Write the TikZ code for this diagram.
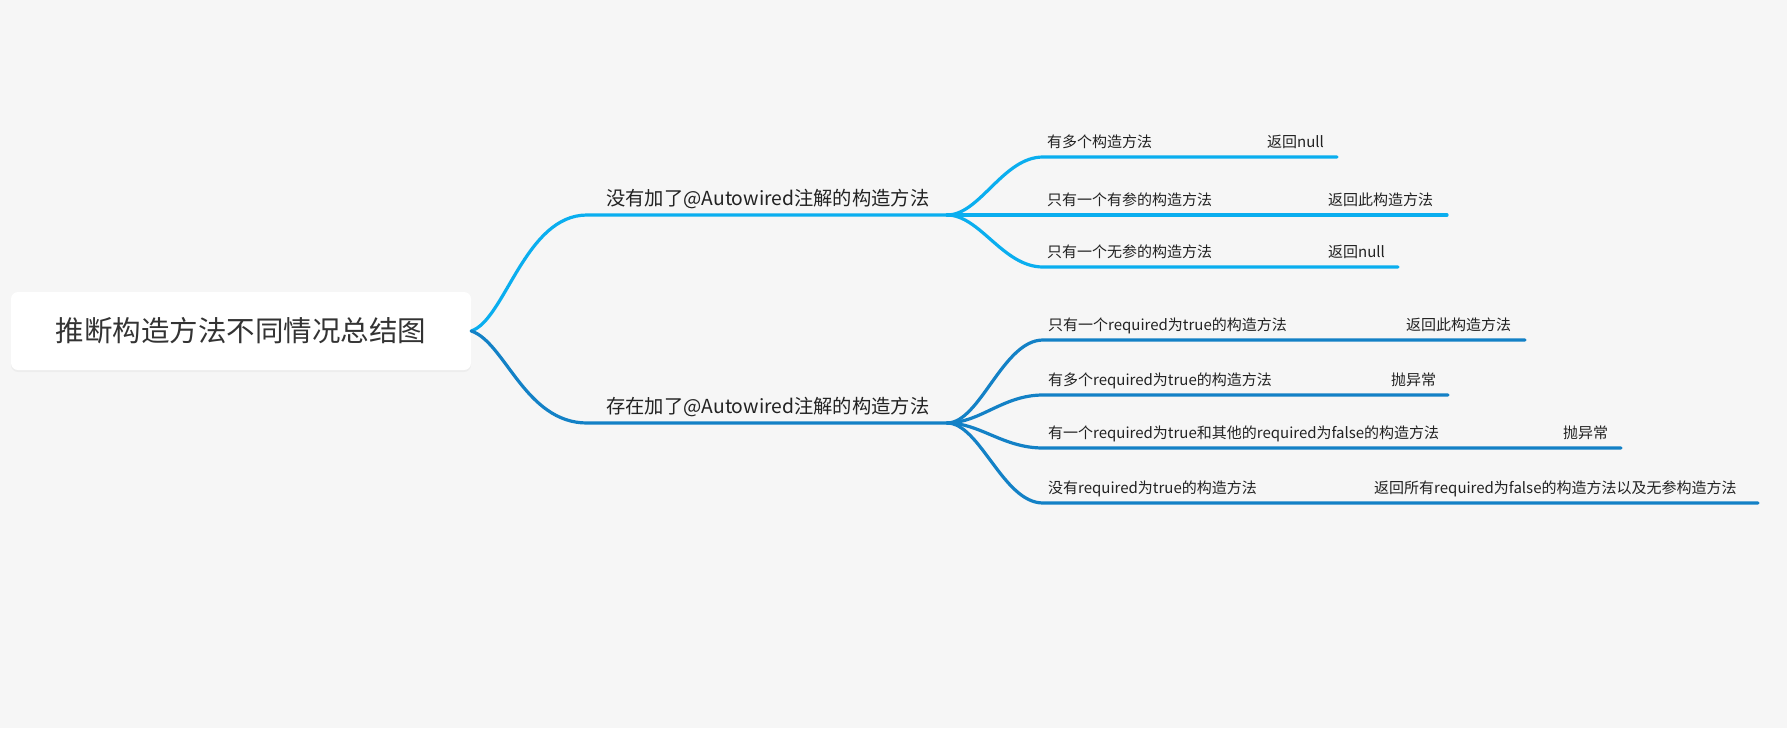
\documentclass[tikz,border=0pt]{standalone}
\usepackage{fontspec}
\setmainfont{Noto Sans CJK SC}
\usetikzlibrary{shadows}
\definecolor{bg}{HTML}{F6F6F6}
\definecolor{cA}{HTML}{0AAEEF}
\definecolor{cB}{HTML}{1381C6}
\definecolor{txt}{HTML}{222222}
\definecolor{roottxt}{HTML}{333333}
\begin{document}
\begin{tikzpicture}[x=1pt,y=-1pt,
  rootbox/.style={fill=white, rounded corners=7pt, minimum width=460pt, minimum height=78pt, inner sep=0pt, text=roottxt, font=\fontsize{28.5}{28.5}\selectfont, drop shadow={opacity=0.07, shadow xshift=0pt, shadow yshift=-2pt}},
  mainlbl/.style={anchor=base west, inner sep=0pt, text=txt, font=\fontsize{19.3}{19.3}\selectfont},
  leaflbl/.style={anchor=base west, inner sep=0pt, text=txt, font=\fontsize{15}{15}\selectfont},
  linkA/.style={draw=cA, line width=3.2pt, line cap=round},
  linkB/.style={draw=cB, line width=3.2pt, line cap=round},
]
\fill[bg] (0,0) rectangle (1787,728);
\useasboundingbox (0,0) rectangle (1787,728);

\node[rootbox] (root) at (241,331) {推断构造方法不同情况总结图};

% ---- branch 1
\coordinate (a0) at (587,215);
\coordinate (a1) at (947,215);
\node[mainlbl] (atext) at (606,205) {没有加了@Autowired注解的构造方法};
\draw[linkA] (root.east) .. controls (505,320) and (525,215) .. (a0) -- (a1);

\coordinate (r1s) at (1043,157); \coordinate (r1e) at (1337,157);
\coordinate (r2s) at (1043,215); \coordinate (r2e) at (1447,215);
\coordinate (r3s) at (1043,267); \coordinate (r3e) at (1398,267);
\draw[linkA] (a1) .. controls +(33,0) and +(-40,0) .. (r1s) -- (r1e);
\draw[linkA] (a1) -- (r2s) -- (r2e);
\draw[linkA] (a1) .. controls +(33,0) and +(-40,0) .. (r3s) -- (r3e);
\node[leaflbl] (r1l) at (1047,147) {有多个构造方法};
\node[leaflbl] (r1r) at (1267,147) {返回null};
\node[leaflbl] (r2l) at (1047,205) {只有一个有参的构造方法};
\node[leaflbl] (r2r) at (1328,205) {返回此构造方法};
\node[leaflbl] (r3l) at (1047,257) {只有一个无参的构造方法};
\node[leaflbl] (r3r) at (1328,257) {返回null};

% ---- branch 2
\coordinate (b0) at (587,423);
\coordinate (b1) at (947,423);
\node[mainlbl] (btext) at (606,413) {存在加了@Autowired注解的构造方法};
\draw[linkB] (root.east) .. controls (505,342) and (525,423) .. (b0) -- (b1);

\coordinate (s1s) at (1043,340); \coordinate (s1e) at (1525,340);
\coordinate (s2s) at (1043,395); \coordinate (s2e) at (1448,395);
\coordinate (s3s) at (1043,448); \coordinate (s3e) at (1621,448);
\coordinate (s4s) at (1043,503); \coordinate (s4e) at (1758,503);
\draw[linkB] (b1) .. controls +(33,0) and +(-40,0) .. (s1s) -- (s1e);
\draw[linkB] (b1) .. controls +(33,0) and +(-40,0) .. (s2s) -- (s2e);
\draw[linkB] (b1) .. controls +(33,0) and +(-40,0) .. (s3s) -- (s3e);
\draw[linkB] (b1) .. controls +(33,0) and +(-40,0) .. (s4s) -- (s4e);
\node[leaflbl] (s1l) at (1048,330) {只有一个required为true的构造方法};
\node[leaflbl] (s1r) at (1406,330) {返回此构造方法};
\node[leaflbl] (s2l) at (1048,385) {有多个required为true的构造方法};
\node[leaflbl] (s2r) at (1391,385) {抛异常};
\node[leaflbl] (s3l) at (1048,438) {有一个required为true和其他的required为false的构造方法};
\node[leaflbl] (s3r) at (1563,438) {抛异常};
\node[leaflbl] (s4l) at (1048,493) {没有required为true的构造方法};
\node[leaflbl] (s4r) at (1374,493) {返回所有required为false的构造方法以及无参构造方法};
\end{tikzpicture}
\end{document}
